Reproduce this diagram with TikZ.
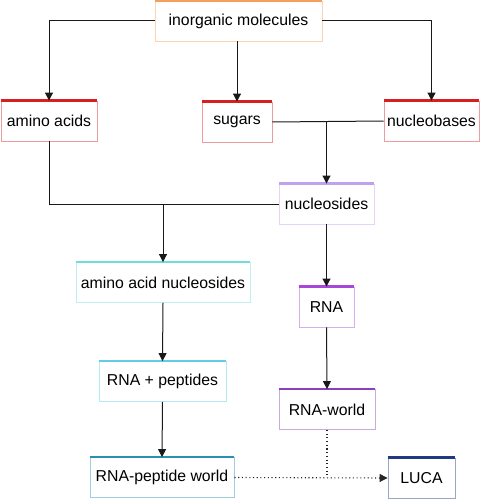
\documentclass[tikz,border=0pt]{standalone}
\usepackage{fontspec}
\setmainfont{Liberation Sans}
\usetikzlibrary{arrows.meta}
\definecolor{corange}{HTML}{F5A05A}
\definecolor{cred}{HTML}{D62020}
\definecolor{clpurple}{HTML}{C2A0F0}
\definecolor{cpurple}{HTML}{A848D8}
\definecolor{cdpurple}{HTML}{8A40B8}
\definecolor{ccyan}{HTML}{70DCDC}
\definecolor{clcyan}{HTML}{60CCE8}
\definecolor{cteal}{HTML}{2A90B0}
\definecolor{cnavy}{HTML}{1F3A80}
\tikzset{
  box/.style={draw=#1!45, fill=white, line width=0.9pt, minimum height=40pt,
    inner sep=0pt, font=\fontsize{15.8}{18}\selectfont,
    append after command={(\tikzlastnode.north west) edge[draw=#1, line width=2.4pt, line cap=butt] (\tikzlastnode.north east)}},
  conn/.style={line width=1pt, draw=black!90},
  arr/.style={conn, -{Triangle[width=8pt,length=8pt]}},
  dots/.style={line width=1.1pt, draw=black!85, dash pattern=on 1.1pt off 2.6pt},
}
\begin{document}
\begin{tikzpicture}[x=1pt,y=-1pt]
\useasboundingbox (0,0) rectangle (482,500);
\node[box=corange, minimum width=167pt] (inorg) at (238.5,21) {inorganic molecules};
\node[box=cred, minimum width=96pt] (amino) at (49,121) {amino acids};
\node[box=cred, minimum width=70pt] (sugars) at (237,122) {sugars};
\node[box=cred, minimum width=95pt] (nbases) at (431.5,121) {nucleobases};
\node[box=clpurple, minimum width=95pt] (nsides) at (326.5,204) {nucleosides};
\node[box=ccyan, minimum width=174pt] (aan) at (163,282.5) {amino acid nucleosides};
\node[box=cpurple, minimum width=55pt] (rna) at (326.5,307) {RNA};
\node[box=clcyan, minimum width=127pt] (rnap) at (162.5,381.5) {RNA + peptides};
\node[box=cdpurple, minimum width=96pt] (rnaw) at (327,409.5) {RNA-world};
\node[box=cteal, minimum width=144pt] (rpw) at (162,477.5) {RNA-peptide world};
\node[box=cnavy, minimum width=67pt] (luca) at (421.5,478) {LUCA};

\coordinate (j1) at (326.5,122);
\coordinate (j2) at (163,204);
\coordinate (j3) at (327,477.5);

\draw[arr] (inorg.west) -| (amino.north);
\draw[arr] (inorg.east) -| (nbases.north);
\draw[arr] (inorg.south -| sugars.north) -- (sugars.north);
\draw[conn] (sugars.east) -- (nbases.west);
\draw[arr] (j1) -- (nsides.north);
\draw[conn] (amino.south) |- (nsides.west);
\draw[arr] (j2) -- (aan.north);
\draw[arr] (nsides.south) -- (rna.north);
\draw[arr] (rna.south) -- (rnaw.north);
\draw[arr] (aan.south) -- (rnap.north);
\draw[arr] (rnap.south) -- (rpw.north);
\draw[dots, -{Triangle[width=8pt,length=8pt]}] (rpw.east) -- (luca.west);
\draw[dots] (rnaw.south) -- (j3);
\end{tikzpicture}
\end{document}
